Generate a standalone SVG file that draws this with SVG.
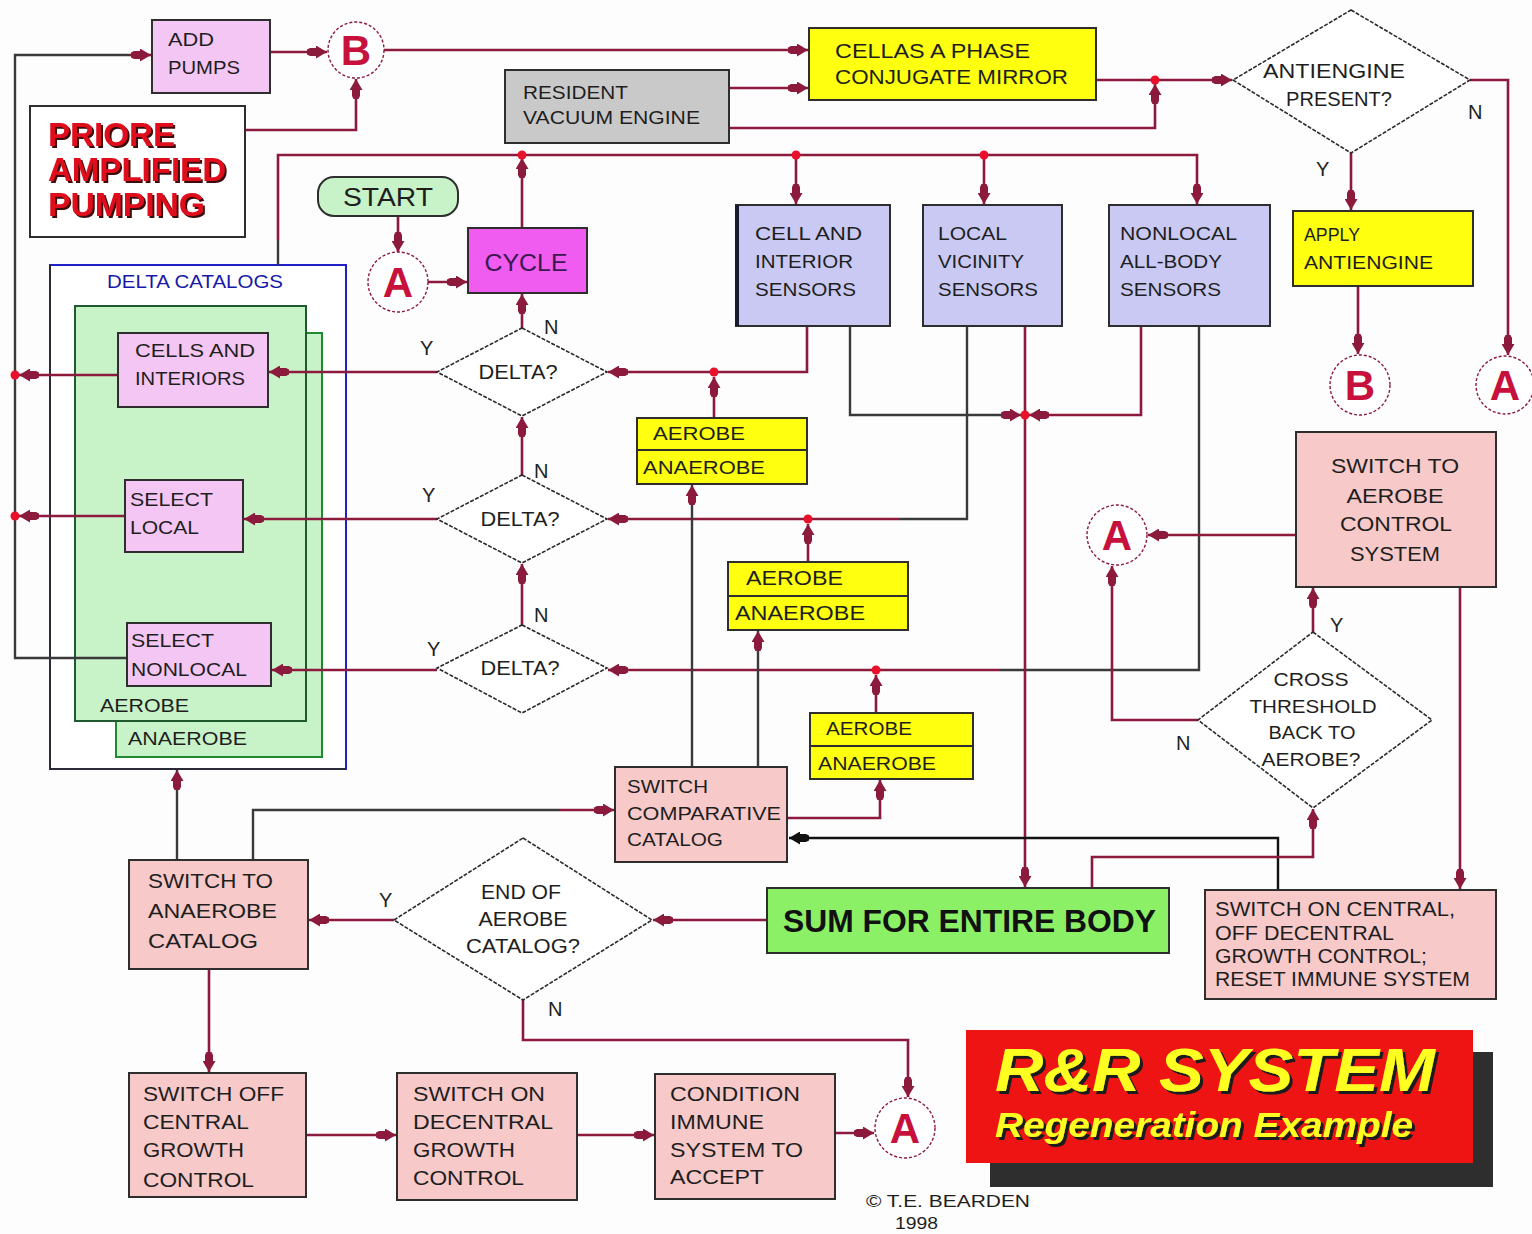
<svg xmlns="http://www.w3.org/2000/svg" width="1532" height="1234" viewBox="0 0 1532 1234">
<style>
.bg{fill:#fdfdfd}
.box{stroke:#2e2e2e;stroke-width:2}
.pk{fill:#f4c6f4}
.sp{fill:#f7c9c9}
.lv{fill:#c9c9f3}
.yl{fill:#ffff10}
.gr{fill:#c9c9c9}
.mg{fill:#ef5cef}
.lg{fill:#c8f2c8}
.dia{fill:#fff;stroke:#2a2a2a;stroke-width:1.6;stroke-dasharray:4 1.5}
.t{font-family:"Liberation Sans",Arial,sans-serif;font-size:19px;fill:#1e1e1e}
.c{text-anchor:middle}
.lbl{font-family:"Liberation Sans",Arial,sans-serif;font-size:20px;fill:#222}
.ln{fill:none;stroke:#8b1a3c;stroke-width:2.6;marker-end:url(#ar)}
.dk{fill:none;stroke:#3a3a3a;stroke-width:2.4}
.dka{fill:none;stroke:#3a3a3a;stroke-width:2.4;marker-end:url(#ar)}
.con{fill:#fff;stroke:#8b1a3c;stroke-width:1.4;stroke-dasharray:3 2}
.cl{font-family:"Liberation Sans",Arial,sans-serif;font-weight:bold;font-size:42px;fill:#c8103c;text-anchor:middle}
.dot{fill:#e8102a}
</style>
<defs>
<marker id="ar" viewBox="0 0 20 13" refX="20" refY="6.5" markerWidth="20" markerHeight="13" markerUnits="userSpaceOnUse" orient="auto">
<path d="M0,4 L3,2.5 L9,2.5 L9,0 L20,6.5 L9,13 L9,10.5 L3,10.5 L0,9 z" fill="#8b1a3c"/>
</marker>
<marker id="ark" viewBox="0 0 20 13" refX="20" refY="6.5" markerWidth="20" markerHeight="13" markerUnits="userSpaceOnUse" orient="auto">
<path d="M0,4 L3,2.5 L9,2.5 L9,0 L20,6.5 L9,13 L9,10.5 L3,10.5 L0,9 z" fill="#111"/>
</marker>
<filter id="sh" x="-5%" y="-10%" width="115%" height="130%">
<feDropShadow dx="3" dy="3" stdDeviation="0.6" flood-color="#1a1a1a" flood-opacity="1"/>
</filter>
<filter id="sh2" x="-5%" y="-10%" width="115%" height="130%">
<feDropShadow dx="2" dy="2" stdDeviation="0.5" flood-color="#3a1010" flood-opacity="1"/>
</filter>
</defs>
<rect class="bg" x="0" y="0" width="1532" height="1234"/>

<!-- containers -->
<g id="delta-catalogs">
<rect x="50" y="265" width="296" height="504" fill="#fff" stroke="#2020c8" stroke-width="2"/>
<path d="M50,265 V769 H346" fill="none" stroke="#2a2a3a" stroke-width="2"/>
<text class="t" x="107" y="288" style="fill:#1818a8;font-size:18px" textLength="176" lengthAdjust="spacingAndGlyphs">DELTA CATALOGS</text>
</g>
<g id="anaerobe-catalog">
<rect x="116" y="333" width="206" height="424" class="lg" stroke="#1e8a2e" stroke-width="2"/>
<text class="t" x="128" y="745" style="font-size:18px" textLength="119" lengthAdjust="spacingAndGlyphs">ANAEROBE</text>
</g>
<g id="aerobe-catalog">
<rect x="75" y="306" width="231" height="415" class="lg" stroke="#1e5a2e" stroke-width="2"/>
<text class="t" x="100" y="712" style="font-size:18px" textLength="89" lengthAdjust="spacingAndGlyphs">AEROBE</text>
</g>

<!-- connectors -->
<g id="connectors">
<path class="dk" d="M127,658 H15 V55 H130"/>
<path class="ln" d="M130,55 H151"/>
<path class="ln" d="M118,375 H19"/>
<path class="ln" d="M125,516 H19"/>
<path class="ln" d="M270,52 H327"/>
<path class="ln" d="M245,130 H356 V79"/>
<path class="ln" d="M384,50 H808"/>
<path class="ln" d="M729,88 H808"/>
<path class="ln" d="M729,128 H1155 V84"/>
<path class="ln" d="M1096,80 H1232"/>
<path class="ln" d="M1470,80 H1508 V355"/>
<path class="ln" d="M1351,153 V210"/>
<path class="ln" d="M1358,286 V354"/>
<path class="dk" d="M278,265 V240"/>
<path class="ln" d="M278,240 V155 H1197 V204"/>
<path class="ln" d="M796,155 V204"/>
<path class="ln" d="M984,155 V204"/>
<path class="ln" d="M522,228 V158"/>
<path class="ln" d="M398,216 V252"/>
<path class="ln" d="M428,282 H467"/>
<path class="ln" d="M522,328 V294"/>
<path class="ln" d="M522,475 V417"/>
<path class="ln" d="M522,625 V564"/>
<path class="ln" d="M437,372 H269"/>
<path class="ln" d="M437,519 H244"/>
<path class="ln" d="M437,670 H272"/>
<path class="ln" d="M807,326 V372 H608"/>
<path class="ln" d="M714,418 V377"/>
<path class="dk" d="M967,326 V519 H900"/>
<path class="ln" d="M900,519 H608"/>
<path class="ln" d="M808,562 V524"/>
<path class="dk" d="M1199,326 V670 H1000"/>
<path class="ln" d="M1000,670 H608"/>
<path class="ln" d="M876,713 V675"/>
<path class="dka" d="M850,326 V415 H1021"/>
<path class="ln" d="M1141,326 V415 H1029"/>
<path class="ln" d="M1025,326 V887"/>
<path class="ln" d="M1296,535 H1148"/>
<path class="ln" d="M1313,632 V588"/>
<path class="ln" d="M1198,720 H1112 V566"/>
<path class="ln" d="M1460,587 V889"/>
<path d="M1278,890 V838 H789" fill="none" stroke="#111" stroke-width="2.4" marker-end="url(#ark)"/>
<path class="ln" d="M1092,888 V857 H1313 V809"/>
<path class="ln" d="M767,920 H653"/>
<path class="ln" d="M394,920 H309"/>
<path class="ln" d="M523,1000 V1040 H908 V1097"/>
<path class="dka" d="M177,860 V770"/>
<path class="dk" d="M253,860 V810 H560"/>
<path class="ln" d="M560,810 H614"/>
<path class="ln" d="M209,969 V1072"/>
<path class="ln" d="M306,1135 H396"/>
<path class="ln" d="M577,1135 H654"/>
<path class="ln" d="M835,1133 H874"/>
<path class="dka" d="M692,767 V485"/>
<path class="dka" d="M758,767 V631"/>
<path class="ln" d="M787,818 H880 V780"/>
<circle class="dot" cx="15" cy="375" r="4.5"/>
<circle class="dot" cx="15" cy="516" r="4.5"/>
<circle class="dot" cx="1155" cy="80" r="4.5"/>
<circle class="dot" cx="522" cy="155" r="4.5"/>
<circle class="dot" cx="796" cy="155" r="4.5"/>
<circle class="dot" cx="984" cy="155" r="4.5"/>
<circle class="dot" cx="714" cy="372" r="4.5"/>
<circle class="dot" cx="808" cy="519" r="4.5"/>
<circle class="dot" cx="876" cy="670" r="4.5"/>
<circle class="dot" cx="1025" cy="415" r="4.5"/>
</g>

<!-- nodes -->
<g id="add-pumps">
<rect class="box pk" x="152" y="20" width="118" height="73"/>
<text class="t" x="168" y="46" style="font-size:18px" textLength="46" lengthAdjust="spacingAndGlyphs">ADD</text>
<text class="t" x="168" y="74" style="font-size:18px" textLength="72" lengthAdjust="spacingAndGlyphs">PUMPS</text>
</g>
<g id="conn-b1">
<circle class="con" cx="356" cy="50" r="28"/>
<text class="cl" x="356" y="65">B</text>
</g>
<g id="priore">
<rect class="box" x="30" y="106" width="215" height="131" fill="#fff"/>
<g filter="url(#sh2)" style="font-family:'Liberation Sans',Arial,sans-serif;font-weight:bold;font-size:34px;fill:#e0101e">
<text x="48" y="146" textLength="127" lengthAdjust="spacingAndGlyphs">PRIORE</text>
<text x="48" y="181" textLength="178" lengthAdjust="spacingAndGlyphs">AMPLIFIED</text>
<text x="48" y="216" textLength="157" lengthAdjust="spacingAndGlyphs">PUMPING</text>
</g>
</g>
<g id="resident">
<rect class="box gr" x="505" y="70" width="224" height="73"/>
<text class="t" x="523" y="99" textLength="105" lengthAdjust="spacingAndGlyphs">RESIDENT</text>
<text class="t" x="523" y="124" textLength="177" lengthAdjust="spacingAndGlyphs">VACUUM ENGINE</text>
</g>
<g id="cellas">
<rect class="box yl" x="809" y="28" width="287" height="72"/>
<text class="t" x="835" y="58" style="font-size:21px" textLength="195" lengthAdjust="spacingAndGlyphs">CELLAS A PHASE</text>
<text class="t" x="835" y="84" style="font-size:21px" textLength="233" lengthAdjust="spacingAndGlyphs">CONJUGATE MIRROR</text>
</g>
<g id="antiengine-present">
<polygon class="dia" points="1351,10 1470,80 1351,153 1233,80"/>
<text class="t" x="1263" y="78" style="font-size:20px" textLength="142" lengthAdjust="spacingAndGlyphs">ANTIENGINE</text>
<text class="t" x="1286" y="106" style="font-size:20px" textLength="106" lengthAdjust="spacingAndGlyphs">PRESENT?</text>
<text class="lbl" x="1468" y="119">N</text>
<text class="lbl" x="1316" y="176">Y</text>
</g>
<g id="apply-antiengine">
<rect class="box yl" x="1293" y="211" width="180" height="75"/>
<text class="t" x="1304" y="241" style="font-size:18px" textLength="56" lengthAdjust="spacingAndGlyphs">APPLY</text>
<text class="t" x="1304" y="269" style="font-size:18px" textLength="129" lengthAdjust="spacingAndGlyphs">ANTIENGINE</text>
</g>
<g id="conn-b2">
<circle class="con" cx="1360" cy="385" r="30"/>
<text class="cl" x="1360" y="400">B</text>
</g>
<g id="conn-a1">
<circle class="con" cx="1505" cy="385" r="29"/>
<text class="cl" x="1505" y="400">A</text>
</g>
<g id="start">
<rect x="318" y="177" width="140" height="39" rx="16" fill="#c8f2c8" stroke="#2e2e2e" stroke-width="2"/>
<text class="t c" x="388" y="206" style="font-size:26px" textLength="90" lengthAdjust="spacingAndGlyphs">START</text>
</g>
<g id="conn-a2">
<circle class="con" cx="398" cy="282" r="30"/>
<text class="cl" x="398" y="297">A</text>
</g>
<g id="cycle">
<rect class="box mg" x="468" y="228" width="119" height="65"/>
<text class="t c" x="526" y="271" style="font-size:24px;fill:#3a1850" textLength="83" lengthAdjust="spacingAndGlyphs">CYCLE</text>
</g>
<g id="cells-and-interiors">
<rect class="box pk" x="118" y="333" width="150" height="74"/>
<text class="t" x="135" y="357" style="font-size:18px" textLength="120" lengthAdjust="spacingAndGlyphs">CELLS AND</text>
<text class="t" x="135" y="385" style="font-size:18px" textLength="110" lengthAdjust="spacingAndGlyphs">INTERIORS</text>
</g>
<g id="select-local">
<rect class="box pk" x="125" y="480" width="118" height="72"/>
<text class="t" x="130" y="506" style="font-size:18px" textLength="83" lengthAdjust="spacingAndGlyphs">SELECT</text>
<text class="t" x="130" y="534" style="font-size:18px" textLength="69" lengthAdjust="spacingAndGlyphs">LOCAL</text>
</g>
<g id="select-nonlocal">
<rect class="box pk" x="127" y="623" width="144" height="63"/>
<text class="t" x="131" y="647" style="font-size:18px" textLength="83" lengthAdjust="spacingAndGlyphs">SELECT</text>
<text class="t" x="131" y="676" style="font-size:18px" textLength="116" lengthAdjust="spacingAndGlyphs">NONLOCAL</text>
</g>
<g id="delta1">
<polygon class="dia" points="522,328 607,372 522,416 437,372"/>
<text class="t c" x="518" y="379" style="font-size:20px" textLength="79" lengthAdjust="spacingAndGlyphs">DELTA?</text>
<text class="lbl" x="544" y="334">N</text>
<text class="lbl" x="420" y="355">Y</text>
</g>
<g id="delta2">
<polygon class="dia" points="522,475 607,519 522,563 437,519"/>
<text class="t c" x="520" y="526" style="font-size:20px" textLength="79" lengthAdjust="spacingAndGlyphs">DELTA?</text>
<text class="lbl" x="534" y="478">N</text>
<text class="lbl" x="422" y="502">Y</text>
</g>
<g id="delta3">
<polygon class="dia" points="522,625 607,668 522,713 437,668"/>
<text class="t c" x="520" y="675" style="font-size:20px" textLength="79" lengthAdjust="spacingAndGlyphs">DELTA?</text>
<text class="lbl" x="534" y="622">N</text>
<text class="lbl" x="427" y="656">Y</text>
</g>
<g id="sensor-cell">
<rect class="box lv" x="736" y="205" width="154" height="121"/>
<path d="M737,205 V326" stroke="#1a1a30" stroke-width="4"/>
<text class="t" x="755" y="240" textLength="107" lengthAdjust="spacingAndGlyphs">CELL AND</text>
<text class="t" x="755" y="268" textLength="98" lengthAdjust="spacingAndGlyphs">INTERIOR</text>
<text class="t" x="755" y="296" textLength="101" lengthAdjust="spacingAndGlyphs">SENSORS</text>
</g>
<g id="sensor-local">
<rect class="box lv" x="923" y="205" width="139" height="121"/>
<text class="t" x="938" y="240" textLength="69" lengthAdjust="spacingAndGlyphs">LOCAL</text>
<text class="t" x="938" y="268" textLength="86" lengthAdjust="spacingAndGlyphs">VICINITY</text>
<text class="t" x="938" y="296" textLength="100" lengthAdjust="spacingAndGlyphs">SENSORS</text>
</g>
<g id="sensor-nonlocal">
<rect class="box lv" x="1109" y="205" width="161" height="121"/>
<text class="t" x="1120" y="240" textLength="117" lengthAdjust="spacingAndGlyphs">NONLOCAL</text>
<text class="t" x="1120" y="268" textLength="102" lengthAdjust="spacingAndGlyphs">ALL-BODY</text>
<text class="t" x="1120" y="296" textLength="101" lengthAdjust="spacingAndGlyphs">SENSORS</text>
</g>
<g id="aer1">
<rect class="box yl" x="637" y="418" width="170" height="66"/>
<path d="M637,450 H807" stroke="#2e2e2e" stroke-width="2"/>
<text class="t" x="653" y="440" style="font-size:18px" textLength="92" lengthAdjust="spacingAndGlyphs">AEROBE</text>
<text class="t" x="643" y="474" style="font-size:18px" textLength="122" lengthAdjust="spacingAndGlyphs">ANAEROBE</text>
</g>
<g id="aer2">
<rect class="box yl" x="728" y="562" width="180" height="68"/>
<path d="M728,596 H908" stroke="#2e2e2e" stroke-width="2"/>
<text class="t" x="746" y="585" style="font-size:20px" textLength="97" lengthAdjust="spacingAndGlyphs">AEROBE</text>
<text class="t" x="735" y="620" style="font-size:20px" textLength="130" lengthAdjust="spacingAndGlyphs">ANAEROBE</text>
</g>
<g id="aer3">
<rect class="box yl" x="810" y="713" width="163" height="66"/>
<path d="M810,746 H973" stroke="#2e2e2e" stroke-width="2"/>
<text class="t" x="826" y="735" style="font-size:18px" textLength="86" lengthAdjust="spacingAndGlyphs">AEROBE</text>
<text class="t" x="818" y="770" style="font-size:18px" textLength="118" lengthAdjust="spacingAndGlyphs">ANAEROBE</text>
</g>
<g id="conn-a3">
<circle class="con" cx="1117" cy="535" r="30"/>
<text class="cl" x="1117" y="550">A</text>
</g>
<g id="switch-aerobe">
<rect class="box sp" x="1296" y="432" width="200" height="155"/>
<text class="t c" x="1395" y="473" style="font-size:20px" textLength="128" lengthAdjust="spacingAndGlyphs">SWITCH TO</text>
<text class="t c" x="1395" y="503" style="font-size:20px" textLength="97" lengthAdjust="spacingAndGlyphs">AEROBE</text>
<text class="t c" x="1396" y="531" style="font-size:20px" textLength="112" lengthAdjust="spacingAndGlyphs">CONTROL</text>
<text class="t c" x="1395" y="561" style="font-size:20px" textLength="90" lengthAdjust="spacingAndGlyphs">SYSTEM</text>
</g>
<g id="cross-threshold">
<polygon class="dia" points="1313,632 1432,720 1313,808 1198,720"/>
<text class="t c" x="1311" y="686" style="font-size:18px" textLength="75" lengthAdjust="spacingAndGlyphs">CROSS</text>
<text class="t c" x="1313" y="713" style="font-size:18px" textLength="127" lengthAdjust="spacingAndGlyphs">THRESHOLD</text>
<text class="t c" x="1312" y="739" style="font-size:18px" textLength="87" lengthAdjust="spacingAndGlyphs">BACK TO</text>
<text class="t c" x="1311" y="766" style="font-size:18px" textLength="99" lengthAdjust="spacingAndGlyphs">AEROBE?</text>
<text class="lbl" x="1330" y="632">Y</text>
<text class="lbl" x="1176" y="750">N</text>
</g>
<g id="switch-comparative">
<rect class="box sp" x="615" y="767" width="172" height="95"/>
<text class="t" x="627" y="793" textLength="81" lengthAdjust="spacingAndGlyphs">SWITCH</text>
<text class="t" x="627" y="820" textLength="154" lengthAdjust="spacingAndGlyphs">COMPARATIVE</text>
<text class="t" x="627" y="846" textLength="96" lengthAdjust="spacingAndGlyphs">CATALOG</text>
</g>
<g id="sum">
<rect class="box" x="767" y="888" width="402" height="65" fill="#8cf066"/>
<text class="t" x="783" y="932" style="font-size:31px;font-weight:bold;fill:#111" textLength="373" lengthAdjust="spacingAndGlyphs">SUM FOR ENTIRE BODY</text>
</g>
<g id="switch-on-central">
<rect class="box sp" x="1205" y="890" width="291" height="109"/>
<text class="t" x="1215" y="916" style="font-size:20px" textLength="240" lengthAdjust="spacingAndGlyphs">SWITCH ON CENTRAL,</text>
<text class="t" x="1215" y="940" style="font-size:20px" textLength="179" lengthAdjust="spacingAndGlyphs">OFF DECENTRAL</text>
<text class="t" x="1215" y="963" style="font-size:20px" textLength="212" lengthAdjust="spacingAndGlyphs">GROWTH CONTROL;</text>
<text class="t" x="1215" y="986" style="font-size:20px" textLength="255" lengthAdjust="spacingAndGlyphs">RESET IMMUNE SYSTEM</text>
</g>
<g id="end-of-aerobe">
<polygon class="dia" points="523,838 652,920 523,1000 394,920"/>
<text class="t c" x="521" y="899" style="font-size:20px" textLength="80" lengthAdjust="spacingAndGlyphs">END OF</text>
<text class="t c" x="523" y="926" style="font-size:20px" textLength="89" lengthAdjust="spacingAndGlyphs">AEROBE</text>
<text class="t c" x="523" y="953" style="font-size:20px" textLength="114" lengthAdjust="spacingAndGlyphs">CATALOG?</text>
<text class="lbl" x="379" y="907">Y</text>
<text class="lbl" x="548" y="1016">N</text>
</g>
<g id="switch-anaerobe">
<rect class="box sp" x="129" y="860" width="179" height="109"/>
<text class="t" x="148" y="888" style="font-size:21px" textLength="125" lengthAdjust="spacingAndGlyphs">SWITCH TO</text>
<text class="t" x="148" y="918" style="font-size:21px" textLength="129" lengthAdjust="spacingAndGlyphs">ANAEROBE</text>
<text class="t" x="148" y="948" style="font-size:21px" textLength="110" lengthAdjust="spacingAndGlyphs">CATALOG</text>
</g>
<g id="switch-off-central">
<rect class="box sp" x="129" y="1073" width="177" height="124"/>
<text class="t" x="143" y="1101" style="font-size:21px" textLength="141" lengthAdjust="spacingAndGlyphs">SWITCH OFF</text>
<text class="t" x="143" y="1129" style="font-size:21px" textLength="106" lengthAdjust="spacingAndGlyphs">CENTRAL</text>
<text class="t" x="143" y="1157" style="font-size:21px" textLength="101" lengthAdjust="spacingAndGlyphs">GROWTH</text>
<text class="t" x="143" y="1187" style="font-size:21px" textLength="111" lengthAdjust="spacingAndGlyphs">CONTROL</text>
</g>
<g id="switch-on-decentral">
<rect class="box sp" x="397" y="1073" width="180" height="127"/>
<text class="t" x="413" y="1101" style="font-size:21px" textLength="132" lengthAdjust="spacingAndGlyphs">SWITCH ON</text>
<text class="t" x="413" y="1129" style="font-size:21px" textLength="140" lengthAdjust="spacingAndGlyphs">DECENTRAL</text>
<text class="t" x="413" y="1157" style="font-size:21px" textLength="102" lengthAdjust="spacingAndGlyphs">GROWTH</text>
<text class="t" x="413" y="1185" style="font-size:21px" textLength="111" lengthAdjust="spacingAndGlyphs">CONTROL</text>
</g>
<g id="condition-immune">
<rect class="box sp" x="655" y="1074" width="180" height="125"/>
<text class="t" x="670" y="1101" style="font-size:21px" textLength="130" lengthAdjust="spacingAndGlyphs">CONDITION</text>
<text class="t" x="670" y="1129" style="font-size:21px" textLength="94" lengthAdjust="spacingAndGlyphs">IMMUNE</text>
<text class="t" x="670" y="1157" style="font-size:21px" textLength="133" lengthAdjust="spacingAndGlyphs">SYSTEM TO</text>
<text class="t" x="670" y="1184" style="font-size:21px" textLength="94" lengthAdjust="spacingAndGlyphs">ACCEPT</text>
</g>
<g id="conn-a4">
<circle class="con" cx="905" cy="1128" r="30"/>
<text class="cl" x="905" y="1143">A</text>
</g>
<g id="title">
<rect x="990" y="1052" width="503" height="135" fill="#2e2e2e"/>
<rect x="966" y="1030" width="507" height="133" fill="#ee1414"/>
<g filter="url(#sh)" style="font-family:'Liberation Sans',Arial,sans-serif;font-weight:bold;font-style:italic;fill:#ffff22">
<text x="995" y="1091" style="font-size:62px" textLength="440" lengthAdjust="spacingAndGlyphs">R&amp;R SYSTEM</text>
<text x="995" y="1137" style="font-size:35px" textLength="418" lengthAdjust="spacingAndGlyphs">Regeneration  Example</text>
</g>
</g>
<g id="credit">
<text class="t" x="866" y="1207" style="font-size:17px" textLength="164" lengthAdjust="spacingAndGlyphs">© T.E. BEARDEN</text>
<text class="t" x="895" y="1229" style="font-size:17px" textLength="43" lengthAdjust="spacingAndGlyphs">1998</text>
</g>
</svg>
